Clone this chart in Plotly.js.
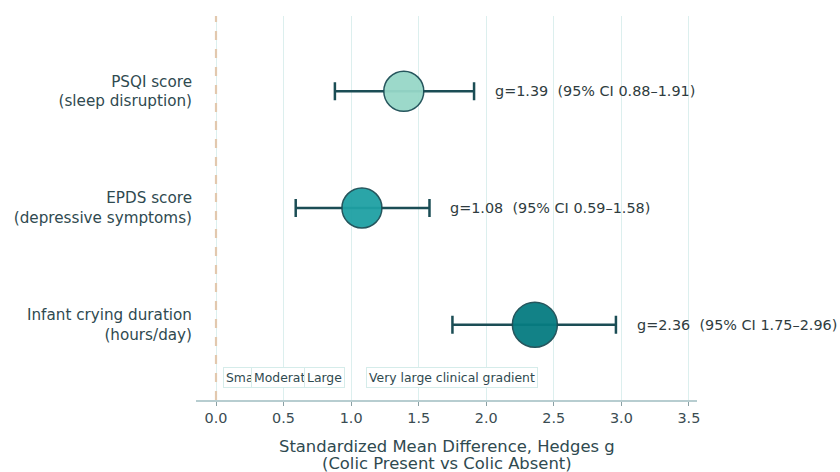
<!DOCTYPE html>
<html><head><meta charset="utf-8">
<script src="https://cdn.plot.ly/plotly-3.0.1.min.js"></script>
<style>html,body{margin:0;padding:0;background:#fff}#chart{width:840px;height:472px}</style>
</head><body><div id="chart"></div>
<script>
var outcomes = ["Infant crying duration<br>(hours/day)", "EPDS score<br>(depressive symptoms)", "PSQI score<br>(sleep disruption)"];
var gValues = [2.36, 1.08, 1.39];
var ciLow = [1.75, 0.59, 0.88];
var ciHigh = [2.96, 1.58, 1.91];
var markerColors = ["#067c81", "#1fa1a4", "#97d8c8"];
var markerSizes = [45, 40, 40];
var bandLabels = ["Small", "Moderate", "Large", "Very large clinical gradient"];
var bandCenters = [0.2, 0.5, 0.8, 1.75];
var xTicks = [0, 0.5, 1.0, 1.5, 2.0, 2.5, 3.0, 3.5];
var xTitleLines = ["Standardized Mean Difference, Hedges g", "(Colic Present vs Colic Absent)"];

var yPos = outcomes.map(function(_, i){ return i; });

var trace = {
  type: "scatter", mode: "markers",
  x: gValues, y: yPos,
  error_x: {
    type: "data", symmetric: false,
    array: gValues.map(function(g, i){ return ciHigh[i] - g; }),
    arrayminus: gValues.map(function(g, i){ return g - ciLow[i]; }),
    color: "#1b4d55", thickness: 2.5, width: 9
  },
  marker: { size: markerSizes, color: markerColors, opacity: 0.95,
            line: { color: "#1b4d55", width: 1.5 } },
  hoverinfo: "skip", showlegend: false
};

var annotations = [];
gValues.forEach(function(g, i){
  annotations.push({
    x: ciHigh[i], y: yPos[i], xref: "x", yref: "y",
    text: "g=" + g.toFixed(2) + "  (95% CI " + ciLow[i].toFixed(2) + "\u2013" + ciHigh[i].toFixed(2) + ")",
    showarrow: false, xanchor: "left", yanchor: "middle", xshift: 19,
    font: { family: "DejaVu Sans", size: 14.4, color: "#2f3c40" }
  });
});
bandLabels.forEach(function(lab, i){
  annotations.push({
    x: bandCenters[i], y: -0.45, xref: "x", yref: "y",
    text: lab, showarrow: false, xanchor: "center", yanchor: "middle",
    font: { family: "DejaVu Sans", size: 12.4, color: "#2f4a50" },
    bgcolor: "#ffffff", bordercolor: "#d5ecea", borderwidth: 1, borderpad: 2
  });
});
xTitleLines.forEach(function(line, i){
  annotations.push({
    x: 0.5, y: 0, xref: "paper", yref: "paper", xanchor: "center", yanchor: "middle",
    yshift: -46 - 17 * i, showarrow: false, text: line,
    font: { family: "DejaVu Sans", size: 16.4, color: "#2f4a50" }
  });
});

var layout = {
  width: 840, height: 472,
  margin: { l: 196, r: 143, t: 16, b: 72 },
  paper_bgcolor: "#ffffff", plot_bgcolor: "#ffffff",
  font: { family: "DejaVu Sans", color: "#2f4a50" },
  xaxis: {
    range: [-0.148, 3.56], tickvals: xTicks,
    ticktext: xTicks.map(function(v){ return v.toFixed(1); }),
    showgrid: true, gridcolor: "#dcefee", gridwidth: 1,
    zeroline: false, showline: true, linecolor: "#b7cdd0", linewidth: 1.5,
    ticks: "outside", ticklen: 4, tickcolor: "#8aa0a4",
    tickfont: { family: "DejaVu Sans", size: 14.4, color: "#3a4c52" }
  },
  yaxis: {
    range: [-0.645, 2.645], tickvals: yPos, ticktext: outcomes,
    showgrid: false, zeroline: false, showline: false, ticks: "",
    ticklabelstandoff: 3,
    tickfont: { family: "DejaVu Sans", size: 15.2, color: "#2f4a50" }
  },
  shapes: [{
    type: "line", xref: "x", yref: "paper", x0: 0, x1: 0, y0: 0, y1: 1,
    line: { color: "#e2c8ae", width: 2.2, dash: "dash" }, layer: "above"
  }],
  annotations: annotations
};

Plotly.newPlot("chart", [trace], layout, { displayModeBar: false, staticPlot: true });
</script></body></html>
